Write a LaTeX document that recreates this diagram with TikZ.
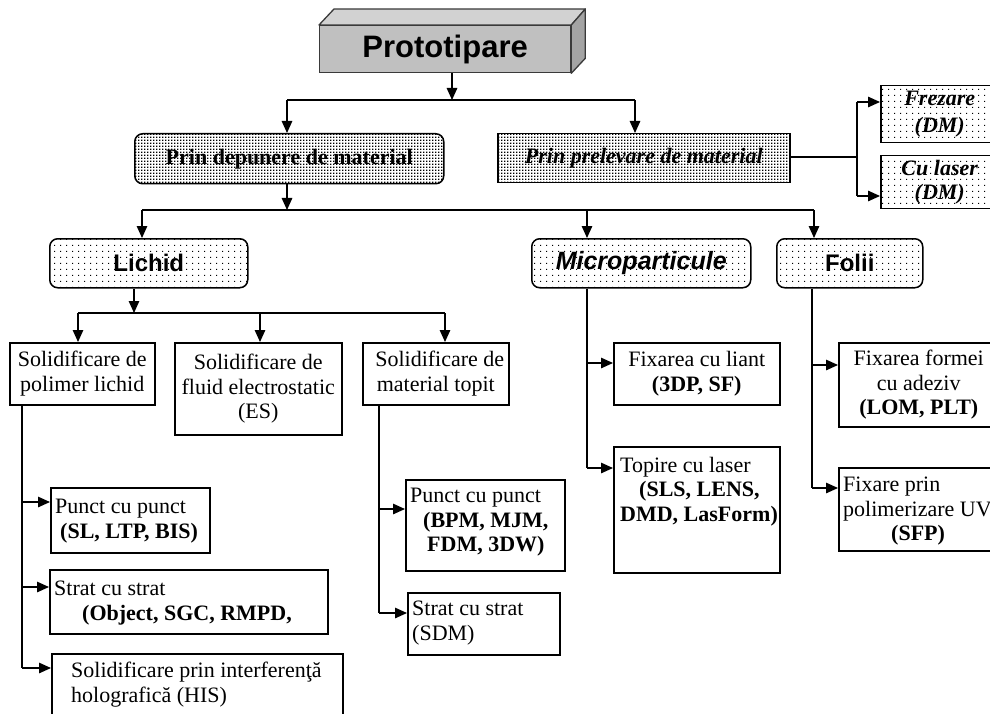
\documentclass[tikz,border=0pt]{standalone}
\usepackage{fontspec}
\setmainfont{Liberation Serif}
\newfontfamily\hfont{Liberation Sans}
\usetikzlibrary{arrows.meta,patterns,calc}

% dot fills: a fine dense grid and a sparse one
\pgfdeclarepatternformonly{finedots}{\pgfqpoint{0pt}{0pt}}{\pgfqpoint{3pt}{3pt}}{\pgfqpoint{3pt}{3pt}}%
  {\pgfpathrectangle{\pgfqpoint{0pt}{0pt}}{\pgfqpoint{1.8pt}{1.8pt}}\pgfusepath{fill}}
\pgfdeclarepatternformonly{sparsedots}{\pgfqpoint{0pt}{0pt}}{\pgfqpoint{6pt}{6pt}}{\pgfqpoint{6pt}{6pt}}%
  {\pgfpathrectangle{\pgfqpoint{0pt}{0pt}}{\pgfqpoint{1.4pt}{1.4pt}}\pgfusepath{fill}}

\definecolor{protofront}{HTML}{C0C0C0}
\definecolor{prototop}{HTML}{D2D2D2}
\definecolor{protoside}{HTML}{A4A4A4}
\definecolor{protoedge}{HTML}{3A3A3A}

\tikzset{
  conn/.style={line width=1.3pt},
  arr/.style={conn, -{Triangle[length=12pt,width=10.5pt]}},
  frame/.style={draw, line width=1.5pt, inner sep=0pt, anchor=north west},
  txt/.style={font=\fontsize{22}{24.5}\selectfont, inner sep=0pt},
  cbox/.style={frame, txt, align=center},
  densebox/.style={frame, pattern=finedots, pattern color=black},
  dotbox/.style={frame, pattern=sparsedots, pattern color=black},
  round/.style={rounded corners=8pt},
  headfont/.style={font=\hfont\bfseries\fontsize{24}{28}\selectfont},
}

\begin{document}
\begin{tikzpicture}[x=1pt,y=-1pt]
\useasboundingbox (0,0) rectangle (990,714);

% ---- root block with bevelled top and side ----
\node[frame, fill=protofront, draw=protoedge, line width=1.3pt, minimum width=251pt, minimum height=47pt,
      font=\hfont\bfseries\fontsize{31}{36}\selectfont] (proto) at (319,25) {Prototipare};
\filldraw[fill=prototop, draw=protoedge, line width=1.3pt, line join=round]
  (proto.north west) -- ++(15,-16) -- ($(proto.north east)+(14,-16)$) -- (proto.north east) -- cycle;
\filldraw[fill=protoside, draw=protoedge, line width=1.3pt, line join=round]
  (proto.north east) -- ++(14,-16) -- ($(proto.south east)+(14,-15)$) -- (proto.south east) -- cycle;

% ---- first level ----
\node[densebox, round, minimum width=309pt, minimum height=50pt, txt] (dep) at (134,133)
  {\textbf{Prin depunere de material}};
\node[densebox, minimum width=292pt, minimum height=49pt, txt] (prel) at (497,133)
  {\textbf{\textit{Prin prelevare de material}}};

\node[dotbox, font=\fontsize{22}{27}\selectfont, align=center, minimum width=118pt, minimum height=57pt] (frez) at (880,85)
  {\textbf{\textit{Frezare}}\\\textbf{\textit{(DM)}}};
\node[dotbox, txt, align=center, minimum width=118pt, minimum height=53pt] (laser) at (880,155)
  {\textbf{\textit{Cu laser}}\\\textbf{\textit{(DM)}}};

% ---- second level ----
\node[dotbox, round, headfont, minimum width=198pt, minimum height=49pt] (lichid) at (49,238) {Lichid};
\node[dotbox, round, font=\hfont\bfseries\itshape\fontsize{25}{28}\selectfont,
      minimum width=219pt, minimum height=49pt] (micro) at (531,238) {Microparticule};
\node[dotbox, round, headfont, minimum width=146pt, minimum height=49pt] (folii) at (776,238) {Folii};

% ---- third level ----
\node[cbox, minimum width=145pt, minimum height=62pt] (sol1) at (9,342) {Solidificare de\\polimer lichid};
\node[cbox, minimum width=167pt, minimum height=92pt] (sol2) at (174,342) {Solidificare de\\fluid electrostatic\\(ES)};
\node[cbox, minimum width=146pt, minimum height=62pt] (sol3) at (362,342) {\hspace*{8pt}Solidificare de\\material topit};
\node[cbox, minimum width=166pt, minimum height=62pt] (fix1) at (613,342) {Fixarea cu liant\\\textbf{(3DP, SF)}};
\node[cbox, minimum width=160pt, minimum height=84pt] (fix2) at (838,342) {Fixarea formei\\cu adeziv\\\textbf{(LOM, PLT)}};

\node[frame, minimum width=166pt, minimum height=126pt] (topire) at (613,446) {};
\node[txt, align=left, anchor=north west] (topiret) at (620,457)
  {Topire cu laser\\\hspace*{19pt}\textbf{(SLS, LENS,}\\\textbf{DMD, LasForm)}};

\node[frame, minimum width=160pt, minimum height=83pt] (poly) at (838,467) {};
\node[txt, align=left, anchor=north west] (polyt) at (843,477)
  {Fixare prin\\polimerizare UV\\\hspace*{48pt}\textbf{(SFP)}};

% ---- leaves under the liquid branches ----
\node[frame, minimum width=159pt, minimum height=65pt] (punct1) at (50,487) {};
\node[txt, align=left, anchor=north west] (punct1t) at (55,499)
  {Punct cu punct\\\hspace*{5pt}\textbf{(SL, LTP, BIS)}};

\node[frame, minimum width=278pt, minimum height=64pt] (strat1) at (49,569) {};
\node[txt, align=left, anchor=north west] (strat1t) at (54,581)
  {Strat cu strat\\\hspace*{28pt}\textbf{(Object, SGC, RMPD,}};

\node[frame, minimum width=291pt, minimum height=80pt] (sol4) at (51,653) {};
\node[txt, align=left, anchor=north west] (sol4t) at (71,662)
  {Solidificare prin interferenţă\\holografică (HIS)};

\node[frame, minimum width=159pt, minimum height=91pt] (punct2) at (405,479) {};
\node[txt, align=left, anchor=north west] (punct2t) at (410,488)
  {Punct cu punct\\\hspace*{13pt}\textbf{(BPM, MJM,}\\\hspace*{17pt}\textbf{FDM, 3DW)}};

\node[frame, minimum width=152pt, minimum height=62pt] (strat2) at (407,592) {};
\node[txt, align=left, anchor=north west] (strat2t) at (412,601)
  {Strat cu strat\\(SDM)};

% ---- connectors: root ----
\coordinate (r0) at (452,100);
\coordinate (ra) at (287,100);
\coordinate (rb) at (635,100);
\draw[arr] (proto.south -| r0) -- (r0);
\draw[conn] (ra) -- (rb);
\draw[arr] (ra) -- (ra |- dep.north);
\draw[arr] (rb) -- (rb |- prel.north);

% ---- connectors: removal branch ----
\coordinate (pj) at (857,157);
\coordinate (pa) at (857,102);
\coordinate (pb) at (857,196);
\draw[conn] (prel.east |- pj) -- (pj);
\draw[conn] (pa) -- (pb);
\draw[arr] (pa) -- (pa -| frez.west);
\draw[arr] (pb) -- (pb -| laser.west);

% ---- connectors: deposition branch ----
\coordinate (d0) at (287,210);
\coordinate (da) at (142,210);
\coordinate (db) at (587,210);
\coordinate (dc) at (814,210);
\draw[arr] (dep.south -| d0) -- (d0);
\draw[conn] (da) -- (dc);
\draw[arr] (da) -- (da |- lichid.north);
\draw[arr] (db) -- (db |- micro.north);
\draw[arr] (dc) -- (dc |- folii.north);

% ---- connectors: liquid ----
\coordinate (l0) at (134,313);
\coordinate (la) at (78,313);
\coordinate (lb) at (260,313);
\coordinate (lc) at (445,313);
\draw[arr] (lichid.south -| l0) -- (l0);
\draw[conn] (la) -- (lc);
\draw[arr] (la) -- (la |- sol1.north);
\draw[arr] (lb) -- (lb |- sol2.north);
\draw[arr] (lc) -- (lc |- sol3.north);

% ---- connectors: liquid polymer ----
\coordinate (s1a) at (22,502);
\coordinate (s1b) at (22,587);
\coordinate (s1c) at (22,668);
\draw[conn] (sol1.south -| s1a) -- (s1c);
\draw[arr] (s1a) -- (s1a -| punct1.west);
\draw[arr] (s1b) -- (s1b -| strat1.west);
\draw[arr] (s1c) -- (s1c -| sol4.west);

% ---- connectors: molten material ----
\coordinate (s3a) at (379,509);
\coordinate (s3b) at (379,613);
\draw[conn] (sol3.south -| s3a) -- (s3b);
\draw[arr] (s3a) -- (s3a -| punct2.west);
\draw[arr] (s3b) -- (s3b -| strat2.west);

% ---- connectors: microparticles ----
\coordinate (ma) at (587,363);
\coordinate (mb) at (587,468);
\draw[conn] (micro.south -| ma) -- (mb);
\draw[arr] (ma) -- (ma -| fix1.west);
\draw[arr] (mb) -- (mb -| topire.west);

% ---- connectors: foils ----
\coordinate (fa) at (812,365);
\coordinate (fb) at (812,488);
\draw[conn] (folii.south -| fa) -- (fb);
\draw[arr] (fa) -- (fa -| fix2.west);
\draw[arr] (fb) -- (fb -| poly.west);

\end{tikzpicture}
\end{document}
